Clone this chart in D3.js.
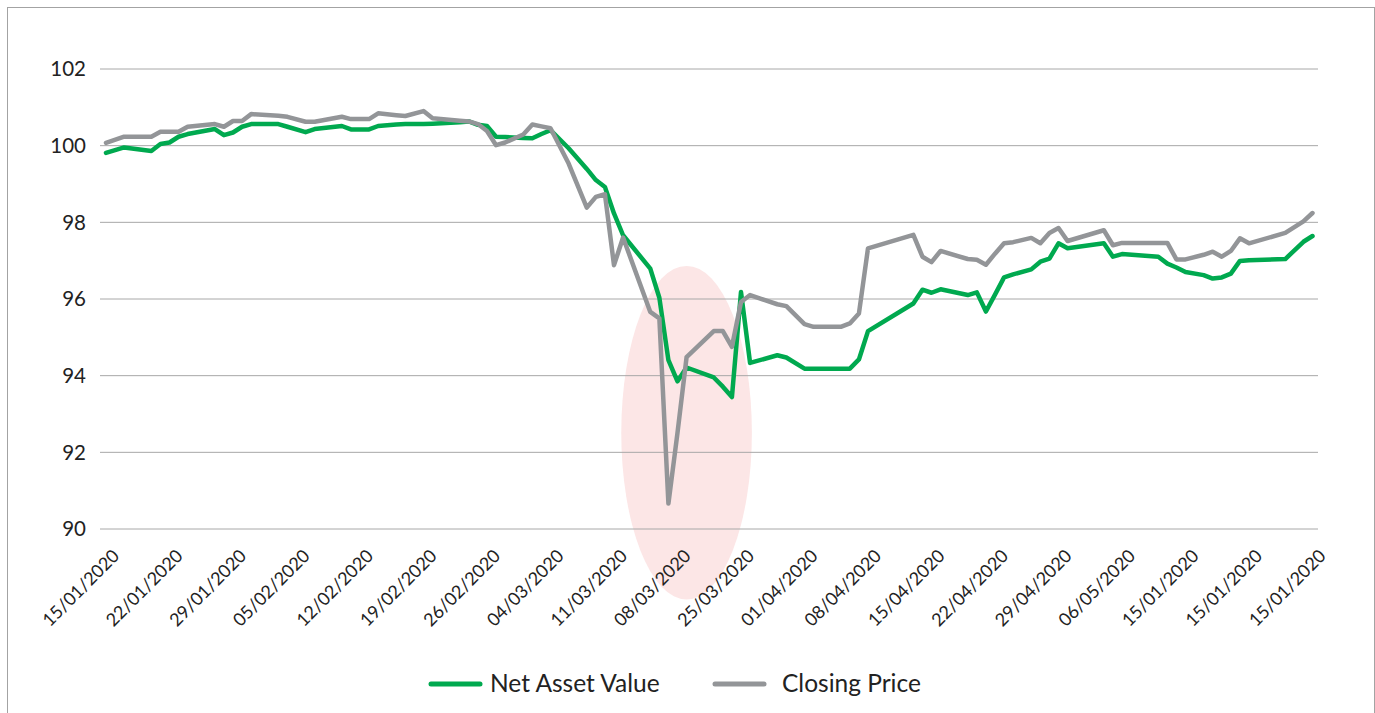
<!DOCTYPE html>
<html>
<head>
<meta charset="utf-8">
<script src="https://cdn.jsdelivr.net/npm/d3@7"></script>
<style>
  html, body { margin: 0; padding: 0; background: #ffffff; }
  svg { display: block; }
  text { font-family: Lato, "Open Sans", sans-serif; fill: #222; }
</style>
</head>
<body>
<svg id="chart" width="1375" height="713"></svg>
<script>
// ---- data ----
const xLabels = ["15/01/2020","22/01/2020","29/01/2020","05/02/2020","12/02/2020","19/02/2020","26/02/2020","04/03/2020","11/03/2020","08/03/2020","25/03/2020","01/04/2020","08/04/2020","15/04/2020","22/04/2020","29/04/2020","06/05/2020","15/01/2020","15/01/2020","15/01/2020"];
const labelDays = xLabels.map((_, i) => i * 7);
const yTicks = [90, 92, 94, 96, 98, 100, 102];
const seriesNames = ["Net Asset Value", "Closing Price"];

// day offsets (from 15/01/2020) of each observation
const days = [
  0, 2, 5, 6, 7, 8, 9, 12, 13, 14, 15, 16, 19, 20, 22, 23, 26, 27, 29, 30,
  32, 33, 35, 36, 39, 40, 41, 42, 43, 44, 46, 47, 48, 49, 51, 53, 54, 55, 56, 57,
  60, 61, 62, 63, 64, 67, 68, 69, 70, 71, 74, 75, 77, 78, 81, 82, 83, 84, 89, 90,
  91, 92, 95, 96, 97, 98, 99, 100, 102, 103, 104, 105, 106, 110, 111, 112, 116, 117, 118, 119,
  121, 122, 123, 124, 125, 126, 130, 132, 133
];
const nav = [
  99.80, 99.94, 99.85, 100.03, 100.07, 100.22, 100.29, 100.42, 100.26, 100.33, 100.48, 100.55, 100.55, 100.48, 100.34, 100.42, 100.50, 100.41, 100.41, 100.50,
  100.54, 100.55, 100.55, 100.56, 100.60, 100.62, 100.53, 100.50, 100.22, 100.21, 100.19, 100.18, 100.29, 100.39, 99.92, 99.38, 99.09, 98.91, 98.22, 97.65,
  96.78, 96.02, 94.39, 93.84, 94.20, 93.94, 93.70, 93.43, 96.17, 94.32, 94.52, 94.46, 94.17, 94.17, 94.17, 94.17, 94.41, 95.15, 95.87, 96.23,
  96.15, 96.24, 96.09, 96.16, 95.66, 96.10, 96.55, 96.63, 96.76, 96.96, 97.04, 97.44, 97.31, 97.44, 97.09, 97.16, 97.09, 96.91, 96.81, 96.69,
  96.61, 96.52, 96.55, 96.65, 96.98, 97.00, 97.03, 97.48, 97.63
];
const closing = [
  100.06, 100.22, 100.22, 100.35, 100.35, 100.35, 100.48, 100.55, 100.48, 100.63, 100.63, 100.81, 100.77, 100.74, 100.61, 100.61, 100.74, 100.68, 100.68, 100.83,
  100.78, 100.76, 100.89, 100.70, 100.64, 100.62, 100.55, 100.37, 100.00, 100.07, 100.28, 100.54, 100.49, 100.44, 99.52, 98.37, 98.65, 98.72, 96.87, 97.59,
  95.65, 95.48, 90.65, 92.50, 94.47, 95.15, 95.15, 94.74, 95.91, 96.09, 95.85, 95.80, 95.33, 95.26, 95.26, 95.35, 95.61, 97.31, 97.66, 97.09,
  96.95, 97.24, 97.03, 97.01, 96.88, 97.17, 97.44, 97.47, 97.58, 97.44, 97.71, 97.84, 97.50, 97.78, 97.39, 97.45, 97.45, 97.45, 97.02, 97.02,
  97.14, 97.22, 97.09, 97.24, 97.57, 97.44, 97.71, 98.01, 98.23
];
// highlighted area (in data units): centre day/value and half-spans
const highlightCentre = [64, 92.5];
const highlightHalfSpan = [7.2, 4.35];

// ---- layout ----
const svg = d3.select("#chart");
const W = 1375, H = 713;
const plotLeft = 100, plotRight = 1318;
const x = d3.scaleLinear().domain([0, 133]).range([106, 1312.5]);
const y = d3.scaleLinear().domain([90, 102]).range([528.5, 68.5]);

// outer border
svg.append("rect")
  .attr("x", 7.5).attr("y", 7.5)
  .attr("width", W - 8).attr("height", H + 20)
  .attr("fill", "none").attr("stroke", "#a3a3a3").attr("stroke-width", 1);

// highlight ellipse
svg.append("ellipse")
  .attr("cx", x(highlightCentre[0]))
  .attr("cy", y(highlightCentre[1]))
  .attr("rx", x(highlightCentre[0] + highlightHalfSpan[0]) - x(highlightCentre[0]))
  .attr("ry", y(highlightCentre[1] - highlightHalfSpan[1]) - y(highlightCentre[1]))
  .attr("fill", "#fce6e6");

// gridlines
const yAxis = d3.axisLeft(y).tickValues(yTicks).tickSize(-(plotRight - plotLeft)).tickFormat(d3.format("d"));
const gy = svg.append("g").attr("transform", `translate(${plotLeft},0)`).call(yAxis);
gy.select(".domain").remove();
gy.selectAll(".tick line").attr("stroke", "#a8a8a8").attr("stroke-width", 1);
gy.selectAll(".tick text")
  .attr("x", -14)
  .attr("dy", "0.35em")
  .style("font-size", "20.5px")
  .style("font-family", "Lato, sans-serif")
  .attr("fill", "#222");

// x axis labels (rotated)
const xAxis = d3.axisBottom(x).tickValues(labelDays).tickSize(0).tickFormat((d, i) => xLabels[i]);
const gx = svg.append("g").attr("transform", `translate(0,${557})`).call(xAxis);
gx.select(".domain").remove();
gx.selectAll(".tick text")
  .attr("x", 0).attr("y", 0).attr("dy", 0)
  .attr("text-anchor", "end")
  .attr("transform", "translate(14,0) rotate(-45)")
  .style("font-size", "18px")
  .style("font-family", "Lato, sans-serif")
  .attr("fill", "#222");

// lines
const colors = ["#00a94f", "#939598"];
const series = [nav, closing];
const line = d3.line().x((d, i) => x(days[i])).y(d => y(d));
series.forEach((s, k) => {
  svg.append("path")
    .datum(s)
    .attr("d", line)
    .attr("fill", "none")
    .attr("stroke", colors[k])
    .attr("stroke-width", 4.5)
    .attr("stroke-linejoin", "round")
    .attr("stroke-linecap", "round");
});

// legend
const legendItems = [
  { name: seriesNames[0], color: colors[0], x: 431, tx: 490 },
  { name: seriesNames[1], color: colors[1], x: 715, tx: 782 }
];
const lg = svg.append("g");
legendItems.forEach(it => {
  lg.append("line")
    .attr("x1", it.x).attr("x2", it.x + 49)
    .attr("y1", 684).attr("y2", 684)
    .attr("stroke", it.color).attr("stroke-width", 5).attr("stroke-linecap", "round");
  lg.append("text")
    .attr("x", it.tx)
    .attr("y", 692)
    .style("font-size", "24.5px")
    .style("font-family", "Lato, sans-serif")
    .attr("fill", "#222")
    .text(it.name);
});
</script>
</body>
</html>
